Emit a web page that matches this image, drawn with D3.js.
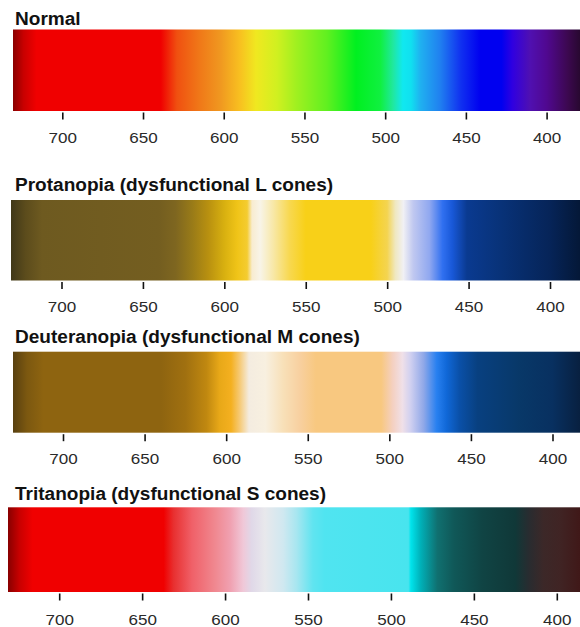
<!DOCTYPE html>
<html>
<head>
<meta charset="utf-8">
<script src="https://cdn.jsdelivr.net/npm/d3@7"></script>
<style>
  html, body { margin: 0; padding: 0; background: #ffffff; }
  svg { display: block; }
</style>
</head>
<body>
<svg id="chart" width="580" height="627"></svg>
<script>
// ---------------- data ----------------
const tickValues = [700, 650, 600, 550, 500, 450, 400];

const panelTitles = [
  "Normal",
  "Protanopia (dysfunctional L cones)",
  "Deuteranopia (dysfunctional M cones)",
  "Tritanopia (dysfunctional S cones)"
];

// wavelength (nm) -> perceived colour
const normalWavelengths = [731, 724, 716, 639, 629, 615, 602, 590, 580, 567, 555, 536, 518, 503, 495, 489, 484, 478, 466, 453, 441, 428, 421, 410, 400, 387, 379];
const normalColors = ["#8a0000", "#c80000", "#f00000", "#f00000", "#f05010", "#f07818", "#f09820", "#f8c020", "#f0e820", "#d0f020", "#a0f020", "#60f020", "#00f020", "#10f040", "#20e8a0", "#10e8f0", "#10e0f0", "#20b0f0", "#2080f0", "#1030f0", "#0000f0", "#0000f0", "#3000e0", "#5010b0", "#500890", "#3c0850", "#280830"];

const protanWavelengths = [731, 722, 712, 640, 630, 620, 610, 600, 592, 586, 583, 578, 570, 560, 550, 510, 500, 495, 490, 484, 474, 466, 460, 451, 430, 400, 382];
const protanColors = ["#403818", "#5c4c1c", "#6e5a20", "#745e20", "#7e6620", "#987a18", "#b89010", "#d8b010", "#f0c418", "#f4cc30", "#f8ecd0", "#f8f4e8", "#f8e8a8", "#f8d850", "#f8d018", "#f8d018", "#f4d450", "#f0e8c0", "#f0f0f4", "#c0c8f0", "#90a8f0", "#3070f0", "#1858d8", "#0a3a90", "#083278", "#062458", "#041838"];

const deutanWavelengths = [731, 722, 712, 640, 625, 612, 604, 597, 592, 586, 576, 565, 555, 545, 505, 498, 492, 487, 479, 471, 465, 457, 446, 420, 400, 383];
const deutanColors = ["#584010", "#7c5810", "#8e6410", "#8e6410", "#a07010", "#c08810", "#e8a818", "#f4b020", "#f6c870", "#f4ece0", "#f8f0e0", "#f8e0b8", "#f8d0a0", "#f8c880", "#f8c880", "#f4d0c0", "#f0e0e8", "#d0d0f0", "#90a8e8", "#2880f0", "#1068d8", "#0a50a8", "#084080", "#083868", "#083060", "#082040"];

const tritanWavelengths = [732, 724, 716, 637, 631, 620, 606, 597, 589, 584, 576, 565, 557, 547, 540, 489.5, 488, 482, 472, 462, 445, 425, 417, 408, 398, 385];
const tritanColors = ["#880000", "#c80000", "#f00000", "#f00000", "#e83030", "#f06068", "#f08890", "#f0a0b0", "#f0c8d8", "#e0d8e8", "#e8e8ec", "#d0e8f0", "#a8e6f0", "#60e4f0", "#50e4f0", "#48e4ee", "#00e4ec", "#00b0b8", "#107070", "#105858", "#104444", "#103838", "#282c30", "#3c2828", "#402424", "#401818"];

const panelWavelengths = [normalWavelengths, protanWavelengths, deutanWavelengths, tritanWavelengths];
const panelColors = [normalColors, protanColors, deutanColors, tritanColors];

// ---------------- layout ----------------
const layouts = [
  { x700: 62.3, x400: 546.6, barLeft: 13, barTop: 29.5, barBottom: 111, titleY: 25.3, labelY: 143 },
  { x700: 61.5, x400: 550.0, barLeft: 11, barTop: 200, barBottom: 280.5, titleY: 191, labelY: 311.5 },
  { x700: 63.0, x400: 552.5, barLeft: 13, barTop: 351.7, barBottom: 432.7, titleY: 343, labelY: 463.5 },
  { x700: 59.2, x400: 556.8, barLeft: 8, barTop: 507.3, barBottom: 592, titleY: 499.5, labelY: 624.5 }
];
const barRight = 580;

const svg = d3.select("#chart");
const defs = svg.append("defs");

panelTitles.forEach((title, i) => {
  const L = layouts[i];
  const x = d3.scaleLinear().domain([700, 400]).range([L.x700, L.x400]);
  const g = svg.append("g");

  // gradient built from the colour stops through the x scale
  const x0 = L.barLeft, x1 = barRight;
  const gradId = "grad" + i;
  const grad = defs.append("linearGradient")
    .attr("id", gradId)
    .attr("gradientUnits", "userSpaceOnUse")
    .attr("x1", x0).attr("x2", x1).attr("y1", 0).attr("y2", 0);
  const stops = panelWavelengths[i].map((w, k) => ({ w, c: panelColors[i][k] }));
  grad.selectAll("stop").data(stops).join("stop")
    .attr("offset", d => Math.max(0, Math.min(1, (x(d.w) - x0) / (x1 - x0))))
    .attr("stop-color", d => d.c);

  g.append("rect")
    .attr("x", x0).attr("y", L.barTop)
    .attr("width", x1 - x0).attr("height", L.barBottom - L.barTop)
    .attr("fill", `url(#${gradId})`);

  // title
  g.append("text")
    .attr("transform", `translate(15,${L.titleY}) scale(1.03,1)`)
    .attr("font-family", "'Liberation Sans', Arial, Helvetica, sans-serif")
    .attr("font-weight", "bold")
    .attr("font-size", "18.5px")
    .attr("fill", "#111")
    .text(title);

  // axis
  const axis = d3.axisBottom(x).tickValues(tickValues).tickSize(7).tickPadding(0).tickFormat(d3.format("d"));
  const ag = g.append("g").attr("transform", `translate(0,${L.barBottom + 1.5})`).call(axis);
  ag.select(".domain").remove();
  ag.selectAll(".tick line").attr("stroke", "#111").attr("stroke-width", 1.6);
  ag.selectAll(".tick text").remove();
  ag.selectAll(".tick").append("text")
    .attr("transform", `translate(0,${L.labelY - L.barBottom - 1.5}) scale(1.1,1)`)
    .attr("text-anchor", "middle")
    .attr("font-family", "'Liberation Sans', Arial, Helvetica, sans-serif")
    .attr("font-size", "15.5px")
    .attr("fill", "#2a2a2a")
    .text(d => d3.format("d")(d));
});
</script>
</body>
</html>
